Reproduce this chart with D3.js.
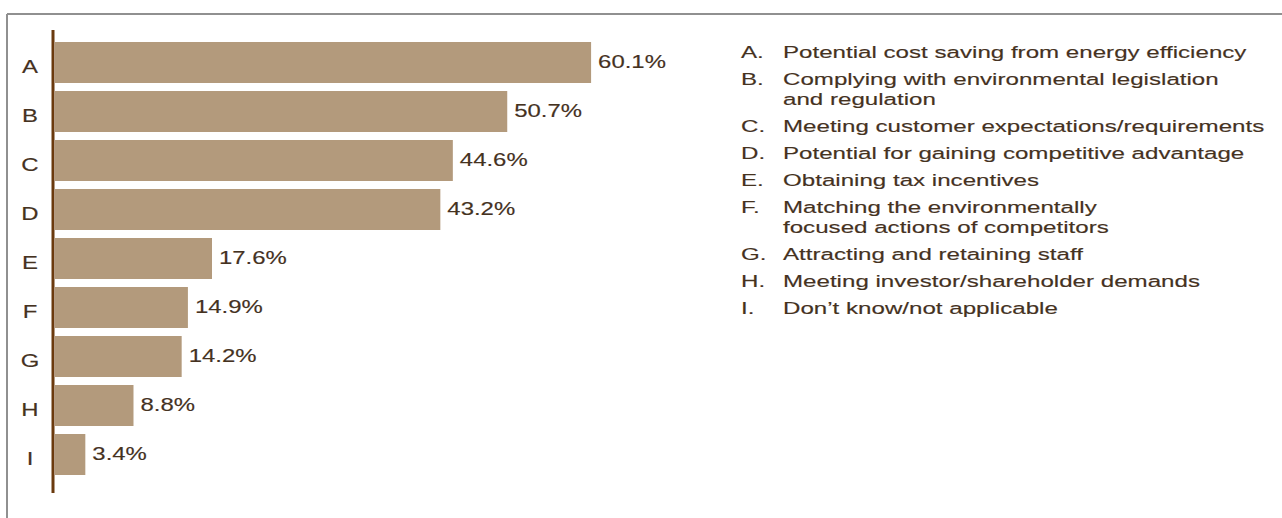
<!DOCTYPE html>
<html>
<head>
<meta charset="utf-8">
<script src="https://cdn.jsdelivr.net/npm/d3@7"></script>
<style>
  html, body { margin: 0; padding: 0; background: #fff; }
  svg { display: block; }
  text { font-family: "Liberation Sans", Arial, Helvetica, sans-serif; fill: #45321f; stroke: #45321f; stroke-width: 0.15px; }
</style>
</head>
<body>
<svg id="chart" width="1282" height="518"></svg>
<script>
// Survey responses: share of respondents citing each driver
const categories = ["A", "B", "C", "D", "E", "F", "G", "H", "I"];
const values = [60.1, 50.7, 44.6, 43.2, 17.6, 14.9, 14.2, 8.8, 3.4];
const legendLetters = ["A.", "B.", "C.", "D.", "E.", "F.", "G.", "H.", "I."];
const legendLines = [
  ["Potential cost saving from energy efficiency"],
  ["Complying with environmental legislation", "and regulation"],
  ["Meeting customer expectations/requirements"],
  ["Potential for gaining competitive advantage"],
  ["Obtaining tax incentives"],
  ["Matching the environmentally", "focused actions of competitors"],
  ["Attracting and retaining staff"],
  ["Meeting investor/shareholder demands"],
  ["Don\u2019t know/not applicable"]
];

const svg = d3.select("#chart");
const stretch = 1.33;      // horizontal widening of the typeface
const legendStretch = 1.42;

// Panel frame (top and left rules)
svg.append("line").attr("x1", 7).attr("x2", 1282).attr("y1", 14).attr("y2", 14)
  .attr("stroke", "#909090").attr("stroke-width", 2);
svg.append("line").attr("x1", 7).attr("x2", 7).attr("y1", 14).attr("y2", 518)
  .attr("stroke", "#909090").attr("stroke-width", 2);

const x = d3.scaleLinear().domain([0, 100]).range([55, 947]);
const y = d3.scaleBand().domain(categories).range([38, 479])
  .paddingInner(8 / 49).paddingOuter(4 / 49);

const data = categories.map((c, i) => ({ cat: c, value: values[i] }));

// Bars
svg.append("g").selectAll("rect").data(data).join("rect")
  .attr("x", x(0))
  .attr("y", d => y(d.cat))
  .attr("width", d => x(d.value) - x(0))
  .attr("height", y.bandwidth())
  .attr("fill", "#b39a7c");

// Value labels
svg.append("g").selectAll("text").data(data).join("text")
  .attr("transform", d => `translate(${x(d.value) + 7},${y(d.cat) + y.bandwidth() / 2 + 5}) scale(${stretch},1)`)
  .attr("font-size", 18)
  .text(d => d.value.toFixed(1) + "%");

// Category letters
svg.append("g").selectAll("text").data(data).join("text")
  .attr("transform", d => `translate(30,${y(d.cat) + y.bandwidth() / 2 + 10}) scale(${stretch},1)`)
  .attr("text-anchor", "middle")
  .attr("font-size", 18)
  .text(d => d.cat);

// Vertical axis rule
svg.append("line").attr("x1", 53).attr("x2", 53).attr("y1", 30).attr("y2", 493)
  .attr("stroke", "#6b3a0e").attr("stroke-width", 3);

// Legend of category descriptions
const legend = svg.append("g");
let extra = 0;
legendLines.forEach((lines, i) => {
  const y0 = 58 + i * 27 + extra * 20;
  legend.append("text")
    .attr("transform", `translate(741,${y0}) scale(${legendStretch},1)`)
    .attr("font-size", 17)
    .text(legendLetters[i]);
  lines.forEach((ln, j) => {
    legend.append("text")
      .attr("transform", `translate(783,${y0 + j * 20}) scale(${legendStretch},1)`)
      .attr("font-size", 17)
      .text(ln);
  });
  extra += lines.length - 1;
});
</script>
</body>
</html>
